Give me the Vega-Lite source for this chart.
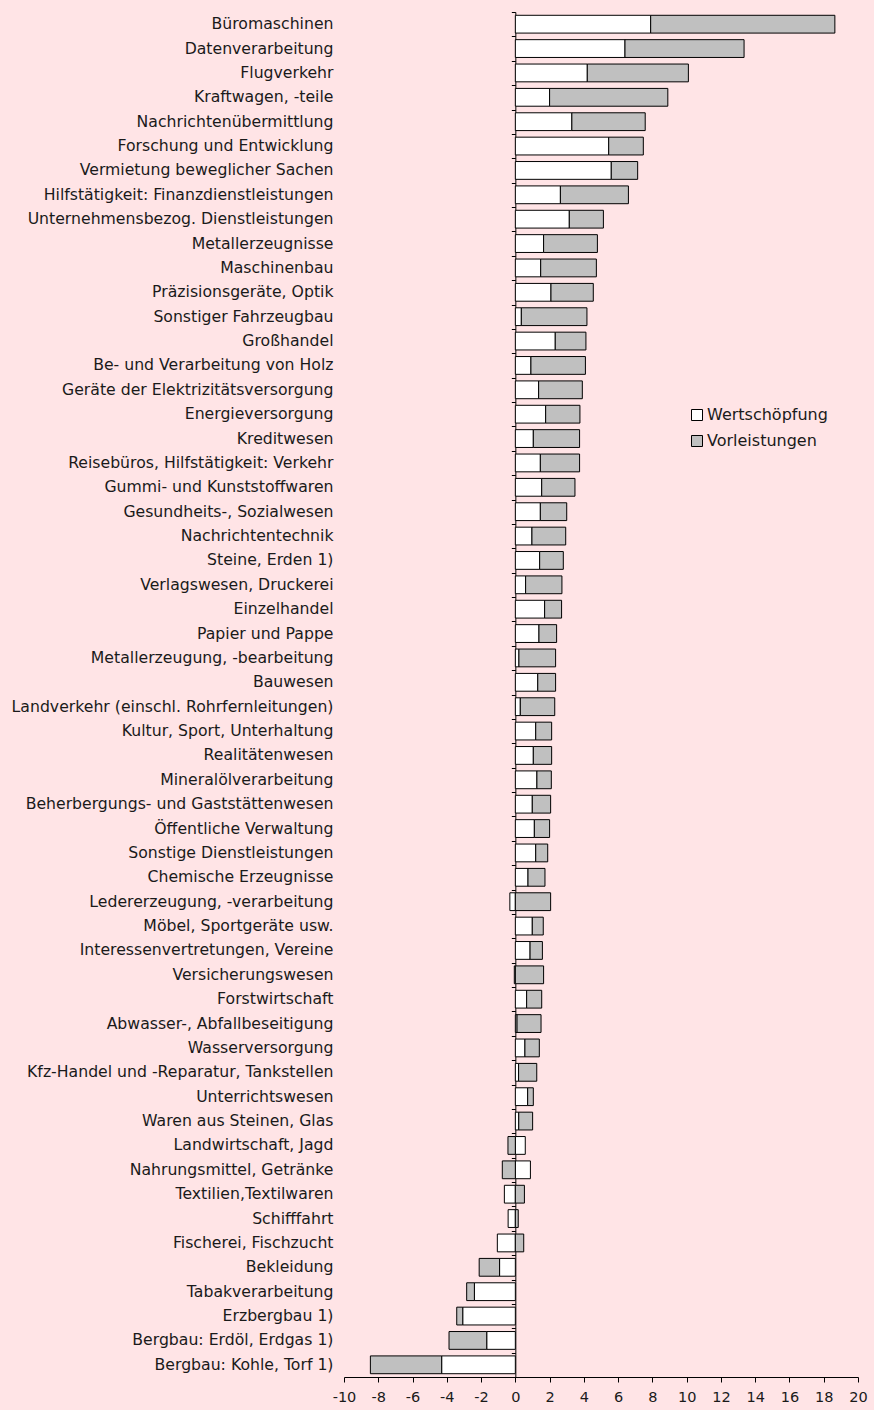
{
  "$schema": "https://vega.github.io/schema/vega-lite/v6.json",
  "autosize": {"type": "none"},
  "width": 514,
  "height": 1365,
  "padding": {"left": 344, "top": 12, "right": 16, "bottom": 33},
  "background": "#FFE4E6",
  "config": {
    "view": {"stroke": null},
    "font": "DejaVu Sans",
    "axis": {"labelFont": "DejaVu Sans", "labelColor": "#1a1a1a", "domainColor": "#000000", "tickColor": "#000000"},
    "axisX": {"labelOverlap": false, "labelFlush": false},
    "legend": {"labelFont": "DejaVu Sans", "labelColor": "#1a1a1a"}
  },
  "data": {
    "values": [
      {"Bereich": "Büromaschinen", "Wertschöpfung": 7.9, "Vorleistungen": 10.75},
      {"Bereich": "Datenverarbeitung", "Wertschöpfung": 6.4, "Vorleistungen": 6.95},
      {"Bereich": "Flugverkehr", "Wertschöpfung": 4.2, "Vorleistungen": 5.9},
      {"Bereich": "Kraftwagen, -teile", "Wertschöpfung": 2.0, "Vorleistungen": 6.9},
      {"Bereich": "Nachrichtenübermittlung", "Wertschöpfung": 3.3, "Vorleistungen": 4.28},
      {"Bereich": "Forschung und Entwicklung", "Wertschöpfung": 5.45, "Vorleistungen": 2.02},
      {"Bereich": "Vermietung beweglicher Sachen", "Wertschöpfung": 5.6, "Vorleistungen": 1.54},
      {"Bereich": "Hilfstätigkeit: Finanzdienstleistungen", "Wertschöpfung": 2.63, "Vorleistungen": 3.97},
      {"Bereich": "Unternehmensbezog. Dienstleistungen", "Wertschöpfung": 3.15, "Vorleistungen": 1.99},
      {"Bereich": "Metallerzeugnisse", "Wertschöpfung": 1.65, "Vorleistungen": 3.14},
      {"Bereich": "Maschinenbau", "Wertschöpfung": 1.48, "Vorleistungen": 3.25},
      {"Bereich": "Präzisionsgeräte, Optik", "Wertschöpfung": 2.08, "Vorleistungen": 2.47},
      {"Bereich": "Sonstiger Fahrzeugbau", "Wertschöpfung": 0.35, "Vorleistungen": 3.83},
      {"Bereich": "Großhandel", "Wertschöpfung": 2.33, "Vorleistungen": 1.79},
      {"Bereich": "Be- und Verarbeitung von Holz", "Wertschöpfung": 0.91, "Vorleistungen": 3.18},
      {"Bereich": "Geräte der Elektrizitätsversorgung", "Wertschöpfung": 1.36, "Vorleistungen": 2.55},
      {"Bereich": "Energieversorgung", "Wertschöpfung": 1.77, "Vorleistungen": 2.0},
      {"Bereich": "Kreditwesen", "Wertschöpfung": 1.05, "Vorleistungen": 2.7},
      {"Bereich": "Reisebüros, Hilfstätigkeit: Verkehr", "Wertschöpfung": 1.46, "Vorleistungen": 2.29},
      {"Bereich": "Gummi- und Kunststoffwaren", "Wertschöpfung": 1.54, "Vorleistungen": 1.94},
      {"Bereich": "Gesundheits-, Sozialwesen", "Wertschöpfung": 1.46, "Vorleistungen": 1.54},
      {"Bereich": "Nachrichtentechnik", "Wertschöpfung": 0.97, "Vorleistungen": 1.97},
      {"Bereich": "Steine, Erden 1)", "Wertschöpfung": 1.42, "Vorleistungen": 1.38},
      {"Bereich": "Verlagswesen, Druckerei", "Wertschöpfung": 0.6, "Vorleistungen": 2.12},
      {"Bereich": "Einzelhandel", "Wertschöpfung": 1.71, "Vorleistungen": 0.99},
      {"Bereich": "Papier und Pappe", "Wertschöpfung": 1.38, "Vorleistungen": 1.03},
      {"Bereich": "Metallerzeugung, -bearbeitung", "Wertschöpfung": 0.21, "Vorleistungen": 2.14},
      {"Bereich": "Bauwesen", "Wertschöpfung": 1.31, "Vorleistungen": 1.04},
      {"Bereich": "Landverkehr (einschl. Rohrfernleitungen)", "Wertschöpfung": 0.29, "Vorleistungen": 2.01},
      {"Bereich": "Kultur, Sport, Unterhaltung", "Wertschöpfung": 1.19, "Vorleistungen": 0.93},
      {"Bereich": "Realitätenwesen", "Wertschöpfung": 1.05, "Vorleistungen": 1.07},
      {"Bereich": "Mineralölverarbeitung", "Wertschöpfung": 1.26, "Vorleistungen": 0.84},
      {"Bereich": "Beherbergungs- und Gaststättenwesen", "Wertschöpfung": 0.99, "Vorleistungen": 1.07},
      {"Bereich": "Öffentliche Verwaltung", "Wertschöpfung": 1.11, "Vorleistungen": 0.89},
      {"Bereich": "Sonstige Dienstleistungen", "Wertschöpfung": 1.19, "Vorleistungen": 0.7},
      {"Bereich": "Chemische Erzeugnisse", "Wertschöpfung": 0.74, "Vorleistungen": 0.99},
      {"Bereich": "Ledererzeugung, -verarbeitung", "Wertschöpfung": -0.32, "Vorleistungen": 2.06},
      {"Bereich": "Möbel, Sportgeräte usw.", "Wertschöpfung": 0.99, "Vorleistungen": 0.64},
      {"Bereich": "Interessenvertretungen, Vereine", "Wertschöpfung": 0.86, "Vorleistungen": 0.72},
      {"Bereich": "Versicherungswesen", "Wertschöpfung": -0.06, "Vorleistungen": 1.65},
      {"Bereich": "Forstwirtschaft", "Wertschöpfung": 0.66, "Vorleistungen": 0.88},
      {"Bereich": "Abwasser-, Abfallbeseitigung ", "Wertschöpfung": 0.1, "Vorleistungen": 1.4},
      {"Bereich": "Wasserversorgung", "Wertschöpfung": 0.56, "Vorleistungen": 0.84},
      {"Bereich": "Kfz-Handel und -Reparatur, Tankstellen", "Wertschöpfung": 0.19, "Vorleistungen": 1.06},
      {"Bereich": "Unterrichtswesen", "Wertschöpfung": 0.72, "Vorleistungen": 0.33},
      {"Bereich": "Waren aus Steinen, Glas", "Wertschöpfung": 0.2, "Vorleistungen": 0.81},
      {"Bereich": "Landwirtschaft, Jagd", "Wertschöpfung": 0.58, "Vorleistungen": -0.43},
      {"Bereich": "Nahrungsmittel, Getränke", "Wertschöpfung": 0.88, "Vorleistungen": -0.76},
      {"Bereich": "Textilien,Textilwaren", "Wertschöpfung": -0.64, "Vorleistungen": 0.53},
      {"Bereich": "Schifffahrt", "Wertschöpfung": -0.42, "Vorleistungen": 0.17},
      {"Bereich": "Fischerei, Fischzucht", "Wertschöpfung": -1.05, "Vorleistungen": 0.49},
      {"Bereich": "Bekleidung", "Wertschöpfung": -0.92, "Vorleistungen": -1.19},
      {"Bereich": "Tabakverarbeitung", "Wertschöpfung": -2.39, "Vorleistungen": -0.45},
      {"Bereich": "Erzbergbau 1)", "Wertschöpfung": -3.07, "Vorleistungen": -0.35},
      {"Bereich": "Bergbau: Erdöl, Erdgas 1)", "Wertschöpfung": -1.67, "Vorleistungen": -2.2},
      {"Bereich": "Bergbau: Kohle, Torf 1)", "Wertschöpfung": -4.3, "Vorleistungen": -4.16}
    ]
  },
  "transform": [
    {"fold": ["Wertschöpfung", "Vorleistungen"], "as": ["Art", "Wert"]}
  ],
  "layer": [
    {
      "mark": {"type": "bar", "height": {"band": 0.73}, "stroke": "#000000", "strokeWidth": 1},
      "encoding": {
        "y": {
          "field": "Bereich", "type": "nominal", "sort": null,
          "scale": {"paddingInner": 0, "paddingOuter": 0},
          "axis": {"title": null, "domain": false, "ticks": false, "labelPadding": 11, "labelFontSize": 15.7, "labelLimit": 400}
        },
        "x": {
          "field": "Wert", "type": "quantitative", "stack": "zero",
          "scale": {"domain": [-10, 20], "nice": false, "zero": false},
          "axis": {"title": null, "values": [-10, -8, -6, -4, -2, 0, 2, 4, 6, 8, 10, 12, 14, 16, 18, 20], "labelOverlap": false, "labelFlush": false, "labelExpr": "datum.value < 0 ? '-' + abs(datum.value) : '' + datum.value", "grid": false, "tickSize": 5, "labelFontSize": 14.5, "labelPadding": 8, "domainColor": "#000000"}
        },
        "color": {
          "field": "Art", "type": "nominal",
          "scale": {"domain": ["Wertschöpfung", "Vorleistungen"], "range": ["#FFFFFF", "#C0C0C0"]},
          "legend": {"title": null, "orient": "none", "legendX": 345, "legendY": 395, "symbolType": "square", "symbolSize": 121, "symbolStrokeColor": "#000000", "symbolStrokeWidth": 1, "labelFontSize": 16, "labelOffset": 2, "rowPadding": 10, "padding": 0}
        },
        "order": {"field": "Art", "sort": "descending"}
      }
    },
    {
      "mark": {"type": "point", "opacity": 0},
      "encoding": {
        "y": {
          "field": "Bereich", "type": "nominal", "sort": null,
          "axis": {"title": null, "orient": "left", "offset": -171.33, "labels": false, "ticks": true, "tickBand": "extent", "tickSize": 4, "domain": true, "domainColor": "#000000", "tickColor": "#000000"}
        }
      }
    }
  ],
  "resolve": {"axis": {"y": "independent"}}
}
